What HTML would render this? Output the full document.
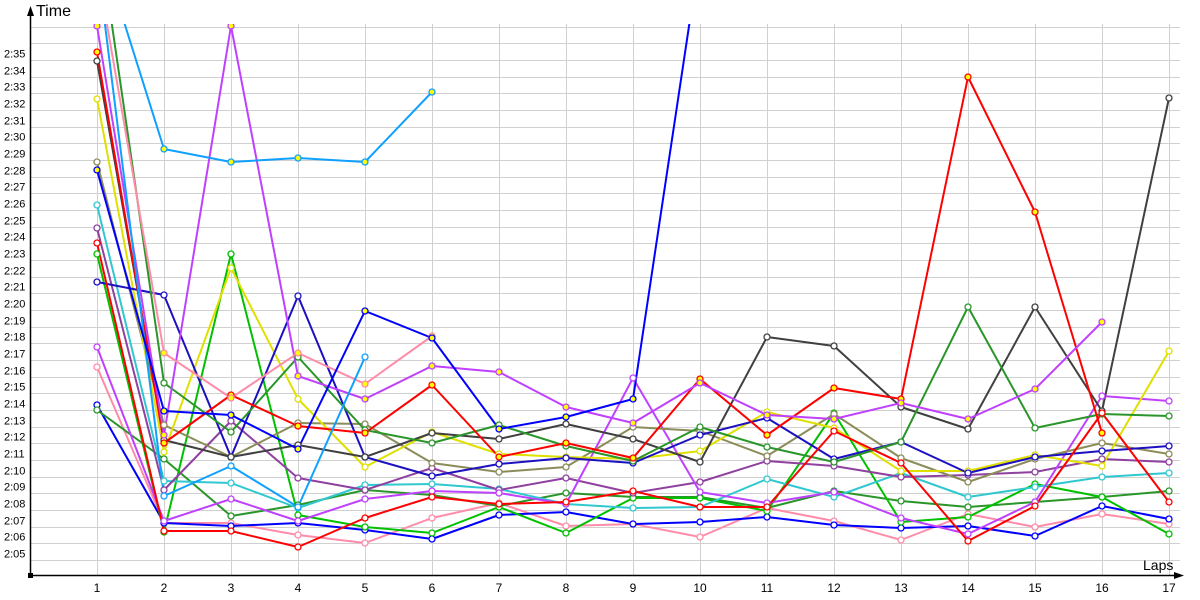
<!DOCTYPE html>
<html><head><meta charset="utf-8"><style>
html,body{margin:0;padding:0;background:#fff;}
svg{display:block;font-family:"Liberation Sans",sans-serif;}
</style></head><body>
<svg id="c" width="1200" height="600" viewBox="0 0 1200 600" xmlns="http://www.w3.org/2000/svg">
<defs><clipPath id="pc"><rect x="30" y="24" width="1160" height="552"/></clipPath></defs>
<g id="grid" stroke="#d0d0d0" stroke-width="1"></g>
<g id="lbl" font-size="11" fill="#000"></g>
<g id="series" clip-path="url(#pc)"></g>
<line x1="30.5" y1="576" x2="30.5" y2="12" stroke="#000" stroke-width="1.5"/>
<polygon points="30.5,6 27,16 34,16" fill="#000"/>
<line x1="30" y1="575.5" x2="1178" y2="575.5" stroke="#000" stroke-width="1.5"/>
<polygon points="1184,575.5 1174,572 1174,579" fill="#000"/>
<rect x="28" y="573" width="5" height="5" fill="#000"/>
<text x="36" y="16" font-size="16">Time</text>
<text x="1143" y="570" font-size="14">Laps</text>
</svg>
<script>
var ns="http://www.w3.org/2000/svg";
function el(p,t,a,txt){var e=document.createElementNS(ns,t);for(var k in a)e.setAttribute(k,a[k]);if(txt)e.textContent=txt;p.appendChild(e);return e;}
var grid=document.getElementById('grid'),lbl=document.getElementById('lbl'),ser=document.getElementById('series');
function X(l){return 30+67*l;}
for(var i=0;i<=32;i++){var y=Math.round(560-i*16.667)+0.5;if(y<24)break;el(grid,'line',{x1:30,y1:y,x2:1180,y2:y});
 if(i<=30){var s=125+i;var m=Math.floor(s/60),sec=s%60;el(lbl,'text',{x:4,y:y-3},m+':'+(sec<10?'0':'')+sec);}}
for(var l=1;l<=17;l++){var x=X(l)+0.5;el(grid,'line',{x1:x,y1:24,x2:x,y2:575});el(lbl,'text',{x:X(l),y:592,'text-anchor':'middle','font-size':'12'},String(l));}
var S=[
['#ff8ca8',0,[367,523,523,535,543,518,503,526,524,537,508,521,540,514,527,514,524]],
['#0000ff',0,[405,523,526,523,530,539,515,512,524,522,517,525,528,526,536,506,519]],
['#2a962a',0,[410,459,516,505,490,495,506,493,497,497,508,491,501,507,502,497,491]],
['#00c000',0,[254,532,254,515,527,533,507,533,498,498,511,413,522,517,484,497,534]],
['#30c8d0',0,[205,481,483,508,485,484,489,504,508,507,479,497,473,497,487,477,473]],
['#9040a0',0,[228,490,421,478,490,468,490,478,493,482,461,466,477,475,472,459,462]],
['#c040ff',0,[347,521,499,521,499,491,493,504,378,492,503,492,518,534,502,396,401]],
['#8c8c5a',0,[162,425,457,423,424,463,472,467,427,431,456,414,458,482,459,443,454]],
['#e0e000',0,[99,452,268,399,467,432,454,457,459,451,412,428,471,471,455,466,351]],
['#1c10c0',0,[282,295,457,296,457,476,464,458,463,435,418,459,442,473,457,451,446]],
['#404040',0,[61,440,457,445,457,433,439,424,439,462,337,346,407,429,307,411,98]],
['#2a962a',0,[-78,383,432,357,430,443,425,446,461,427,447,462,442,307,428,414,416]],
['#ff0000',0,[243,531,531,547,518,497,504,502,491,507,507,431,463,541,506,413,502]],
['#ff0000',1,[52,443,395,426,433,385,457,443,458,379,435,388,399,77,212,433]],
['#c040ff',1,[26,435,26,376,399,366,372,407,423,383,415,419,403,419,389,322]],
['#ff8ca8',1,[-33,353,398,353,384,336]],
['#10a0ff',0,[-39,496,466,507,357]],
['#10a0ff',1,[-64,149,162,158,162,92]],
['#0000ff',1,[170,411,415,449,311,338,429,417,399,-47]]
];
S.forEach(function(s){var pts=s[2].map(function(v,i){return X(i+1)+','+v;}).join(' ');
 el(ser,'polyline',{points:pts,fill:'none',stroke:s[0],'stroke-width':2,'stroke-linejoin':'round'});});
S.forEach(function(s){s[2].forEach(function(v,i){if(v<20)return;el(ser,'circle',{cx:X(i+1),cy:v,r:3,fill:s[1]?'#ffff00':'#fff',stroke:s[0],'stroke-width':1.3});});});
</script>
</body></html>
